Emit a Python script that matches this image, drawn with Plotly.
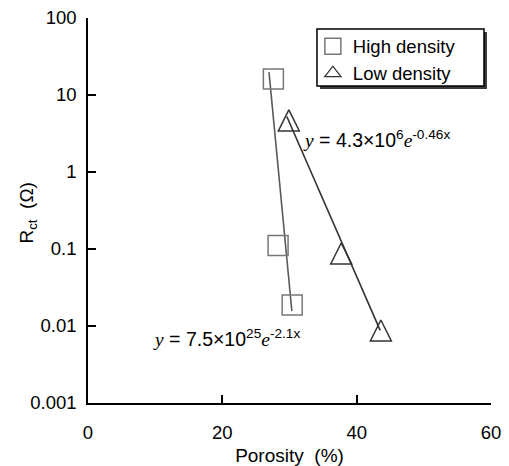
import math
import plotly.graph_objects as go

# Measured charge-transfer resistance vs. porosity
porosity_high = [27.6, 28.3, 30.4]
rct_high = [16.1, 0.111, 0.0187]

porosity_low = [29.9, 37.7, 43.6]
rct_low = [4.68, 0.0875, 0.00875]

# Exponential fits  y = a * exp(b * x)  and the porosity span each fit line covers
fit_high_a, fit_high_b = 7.5e25, -2.1
fit_high_span = [26.95, 30.35]
fit_low_a, fit_low_b = 4.3e6, -0.46
fit_low_span = [29.6, 43.5]

x_ticks = [0, 20, 40, 60]
y_ticks = [0.001, 0.01, 0.1, 1, 10, 100]
y_tick_text = ["0.001", "0.01", "0.1", "1", "10", "100"]


def fit_curve(a, b, span):
    return span, [a * math.exp(b * x) for x in span]


sans = "Arial, Liberation Sans, sans-serif"
serif = "Liberation Serif"

fig = go.Figure()

hx, hy = fit_curve(fit_high_a, fit_high_b, fit_high_span)
lx, ly = fit_curve(fit_low_a, fit_low_b, fit_low_span)

fig.add_trace(go.Scatter(x=hx, y=hy, mode="lines", showlegend=False,
                         line=dict(color="#5a5a5a", width=1.6)))
fig.add_trace(go.Scatter(x=lx, y=ly, mode="lines", showlegend=False,
                         line=dict(color="#333333", width=1.6)))

square_marker = dict(symbol="square-open", size=20, color="#777777",
                     line=dict(width=1.5, color="#777777"))
# upward triangle as tall as it is wide, centred on the point
triangle_marker = dict(symbol="arrow-down-open", angle=180, standoff=10.5, size=21,
                       color="#333333", line=dict(width=1.5, color="#333333"))

fig.add_trace(go.Scatter(x=porosity_high, y=rct_high, mode="markers",
                         name="High density", marker=square_marker))
fig.add_trace(go.Scatter(x=porosity_low, y=rct_low, mode="markers",
                         name="Low density", marker=triangle_marker, showlegend=False))
# key entry for the low-density series
fig.add_trace(go.Scatter(
    x=[None], y=[None], mode="markers", name="Low density",
    marker=dict(symbol="triangle-up-open", size=14,
                color="#333333", line=dict(width=1.3, color="#333333")),
))

ann_font = dict(family=sans, size=19.5, color="black")
fig.add_annotation(
    xref="paper", yref="paper", x=0.528, y=0.685, xanchor="left", yanchor="middle",
    showarrow=False, font=ann_font,
    text=f"<span style='font-family:{serif}'><i>y</i></span> = 4.3×10<sup>6</sup>"
         f"<span style='font-family:{serif}'><i>e</i></span><sup>-0.46x</sup>",
)
fig.add_annotation(
    xref="paper", yref="paper", x=0.156, y=0.170, xanchor="left", yanchor="middle",
    showarrow=False, font=ann_font,
    text=f"<span style='font-family:{serif}'><i>y</i></span> = 7.5×10<sup>25</sup>"
         f"<span style='font-family:{serif}'><i>e</i></span><sup>-2.1x</sup>",
)
# y-axis title
fig.add_annotation(
    xref="paper", yref="paper", x=-0.150, y=0.4935, xanchor="center", yanchor="middle",
    showarrow=False, textangle=-90, font=dict(family=sans, size=19, color="black"),
    text="R<sub>ct</sub>\u00a0 (Ω)",
)

# legend frame with drop shadow
fig.add_shape(type="rect", xref="paper", yref="paper",
              x0=0.5757, x1=0.9900, y0=0.8156, y1=0.9636,
              fillcolor="#3a3a3a", line=dict(width=0), layer="above")
fig.add_shape(type="rect", xref="paper", yref="paper",
              x0=0.5682, x1=0.9826, y0=0.8234, y1=0.9714,
              fillcolor="white", line=dict(width=1.5, color="black"), layer="above")

fig.update_layout(
    width=509, height=466,
    margin=dict(l=88, r=18, t=18, b=63),
    paper_bgcolor="white", plot_bgcolor="white",
    font=dict(family=sans, size=18.5, color="black"),
    legend=dict(
        x=0.558, y=0.975, xanchor="left", yanchor="top",
        bgcolor="rgba(0,0,0,0)", borderwidth=0,
        font=dict(family=sans, size=18.5, color="black"),
    ),
    xaxis=dict(
        range=[0, 60], tickvals=x_ticks, showgrid=False, zeroline=False,
        showline=True, linecolor="black", linewidth=1.5,
        ticks="inside", ticklen=8, tickwidth=1.5, tickcolor="black",
        ticklabelstandoff=12, automargin=False,
        title=dict(text="Porosity\u00a0 (%)", font=dict(size=19), standoff=8),
    ),
    yaxis=dict(
        type="log", range=[-3, 2], tickvals=y_ticks, ticktext=y_tick_text,
        showgrid=False, zeroline=False,
        showline=True, linecolor="black", linewidth=1.5,
        ticks="inside", ticklen=8, tickwidth=1.5, tickcolor="black",
        ticklabelstandoff=6, automargin=False,
    ),
)

fig.write_html("out.html")
